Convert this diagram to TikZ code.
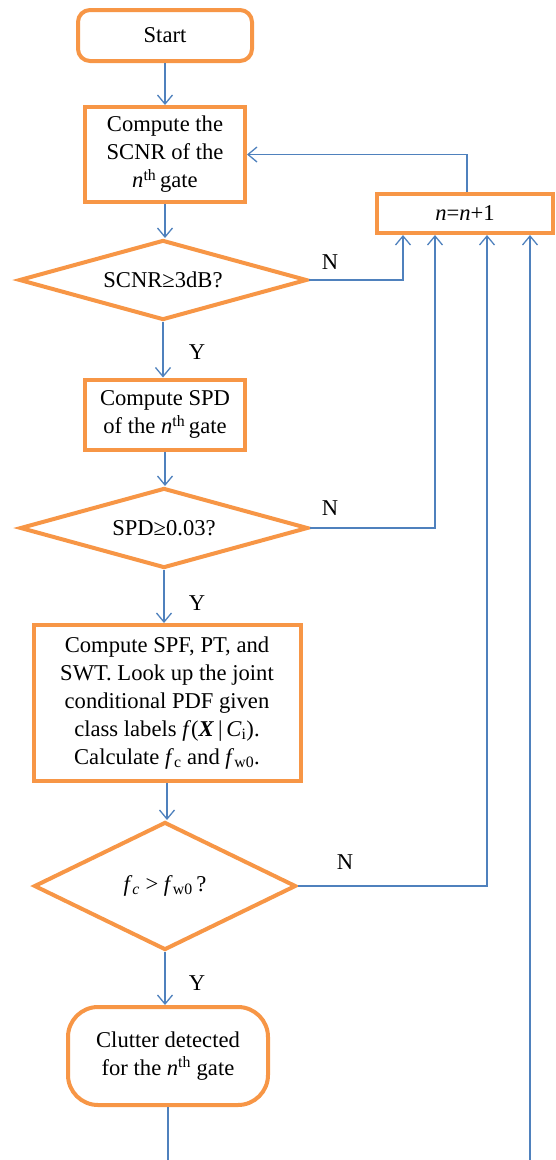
\documentclass[tikz,border=0pt]{standalone}
\usepackage{fontspec}
\setmainfont{Liberation Serif}
\usetikzlibrary{shapes.geometric,arrows.meta,calc}
\definecolor{boxorange}{RGB}{247,150,70}
\definecolor{flowblue}{RGB}{79,129,189}
\begin{document}
\begin{tikzpicture}[x=1pt,y=-1pt,
  every node/.style={font=\fontsize{22.6}{28}\selectfont, inner sep=0pt, align=center},
  outline/.style={draw=boxorange, line width=4pt, fill=white},
  procbox/.style={outline, rectangle},
  termbox/.style={outline, rectangle, rounded corners=#1},
  decision/.style={outline, diamond, line join=miter, shape aspect=#1},
  flow/.style={draw=flowblue, line width=1.3pt, -{Straight Barb[length=9pt,width=15pt,line width=1.3pt]}},
  yn/.style={font=\fontsize{22.6}{28}\selectfont}
]
\useasboundingbox (0,0) rectangle (556,1160);
\clip (0,0) rectangle (556,1160);

% main column
\node[termbox=12pt, minimum width=174pt, minimum height=51pt] (start) at (165,35.5) {Start};
\node[procbox, minimum width=160pt, minimum height=95pt] (b1) at (165,154.5)
  {Compute the\\SCNR of the\\\textit{n}\textsuperscript{th}\,gate};
\node[decision=3.6, minimum width=288pt, minimum height=80pt] (d1) at (163,280) {SCNR≥3dB?};
\node[procbox, minimum width=160pt, minimum height=70pt] (b2) at (165,414.5)
  {Compute SPD\\of the \textit{n}\textsuperscript{th}\,gate};
\node[decision=3.6, minimum width=288pt, minimum height=80pt] (d2) at (164,528) {SPD≥0.03?};
\node[procbox, minimum width=267pt, minimum height=156pt] (b3) at (167,703)
  {Compute SPF, PT, and\\SWT. Look up the joint\\conditional PDF given\\
   class labels \textit{f}(\textbf{\textit{X}}\,|\,\textit{C}\textsubscript{i}).\\
   Calculate \textit{f}\textsubscript{c} and \textit{f}\textsubscript{w0}.};
\node[decision=2.05, minimum width=262pt, minimum height=128pt] (d3) at (165,886)
  {\textit{f}\textsubscript{\textit{c}} > \textit{f}\textsubscript{w0}\,?};
\node[termbox=30pt, minimum width=200pt, minimum height=98pt] (term) at (168,1056)
  {Clutter detected\\for the \textit{n}\textsuperscript{th} gate};

% counter update
\node[procbox, minimum width=176pt, minimum height=39pt] (nbox) at (465,213.5)
  {\textit{n}=\textit{n}+1};

% entry points under the counter box
\coordinate (in1) at ($(nbox.south)+(-62,0)$);
\coordinate (in2) at ($(nbox.south)+(-30,0)$);
\coordinate (in3) at ($(nbox.south)+(22,0)$);
\coordinate (in4) at ($(nbox.south)+(65,0)$);
\coordinate (loopout) at ($(nbox.north)+(2,0)$);
\coordinate (floor) at (0,1175);

% downward flow
\draw[flow] (start) -- (b1);
\draw[flow] (b1) -- (b1 |- d1.north);
\draw[flow] (d1.south) -- (d1.south |- b2.north);
\draw[flow] (b2) -- (b2 |- d2.north);
\draw[flow] (d2.south) -- (d2.south |- b3.north);
\draw[flow] (b3.south) -- (b3.south |- d3.north);
\draw[flow] (d3.south) -- (d3.south |- term.north);

% Y labels
\node[yn] (y1) at (197,352) {Y};
\node[yn] (y2) at (197,603) {Y};
\node[yn] (y3) at (197,983) {Y};

% N branches to the counter
\draw[flow] (d1.east) -| (in1);
\draw[flow] (d2.east) -| (in2);
\draw[flow] (d3.east) -| (in3);
\node[yn] (n1) at (330,262) {N};
\node[yn] (n2) at (330,508) {N};
\node[yn] (n3) at (345,862) {N};

% loop back to the next gate
\draw[flow] (loopout) |- (b1.east);
\draw[flow] (term.south) -- (term.south |- floor) -| (in4);
\end{tikzpicture}
\end{document}
